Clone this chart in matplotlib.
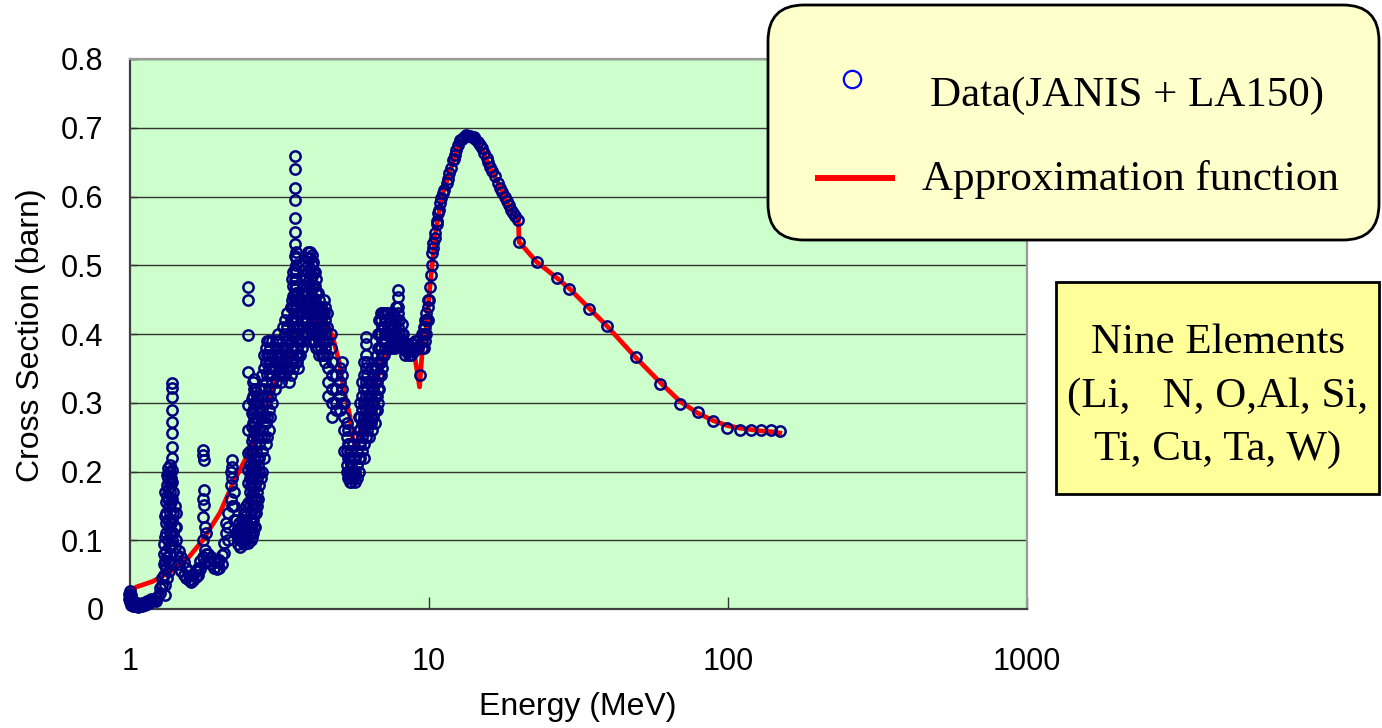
import numpy as np
import matplotlib
matplotlib.use("Agg")
import matplotlib.pyplot as plt
from matplotlib.patches import FancyBboxPatch, Rectangle
from matplotlib.lines import Line2D
from matplotlib.transforms import IdentityTransform
from matplotlib.ticker import NullLocator

# ---------------------------------------------------------------------------
# Evaluated cross-section data, resonance region (energy in MeV, xs in barn).
# Each entry: one energy with the cross-section values found there.
res_columns = [
    (0.99, [0.022, 0.014]),
    (1.00, [0.026, 0.018, 0.010]),
    (1.01, [0.006, 0.020]),
    (1.02, [0.012, 0.004]),
    (1.04, [0.005, 0.010]),
    (1.06, [0.003, 0.007]),
    (1.08, [0.004]),
    (1.10, [0.005, 0.009]),
    (1.12, [0.006]),
    (1.14, [0.007, 0.011]),
    (1.16, [0.009]),
    (1.18, [0.011, 0.014]),
    (1.20, [0.013]),
    (1.22, [0.016, 0.012]),
    (1.24, [0.019]),
    (1.26, [0.024, 0.030]),
    (1.28, [0.035, 0.045]),
    (1.30, [0.050, 0.065, 0.080, 0.095]),
    (1.31, [0.020, 0.035, 0.070, 0.105, 0.135, 0.170]),
    (1.32, [0.060, 0.085, 0.110, 0.125, 0.140, 0.155]),
    (1.33, [0.045, 0.075, 0.165, 0.180, 0.195]),
    (1.34, [0.070, 0.100, 0.130, 0.160, 0.175, 0.190, 0.205]),
    (1.35, [0.055, 0.090, 0.120, 0.150, 0.200]),
    (1.36, [0.080, 0.110, 0.140, 0.170, 0.185, 0.200, 0.210]),
    (1.37, [0.065, 0.095, 0.125, 0.155, 0.190]),
    (1.38, [0.185, 0.202, 0.219, 0.236, 0.256, 0.272, 0.289, 0.308, 0.321,
            0.329, 0.160, 0.130, 0.100]),
    (1.39, [0.110, 0.140, 0.170]),
    (1.41, [0.090, 0.120, 0.150]),
    (1.43, [0.080, 0.100, 0.120, 0.140]),
    (1.46, [0.065, 0.085]),
    (1.48, [0.055, 0.075]),
    (1.51, [0.050, 0.068]),
    (1.54, [0.045, 0.060]),
    (1.57, [0.042, 0.055]),
    (1.60, [0.040, 0.050]),
    (1.63, [0.042, 0.050]),
    (1.66, [0.046, 0.055]),
    (1.69, [0.050, 0.060]),
    (1.72, [0.058, 0.070]),
    (1.75, [0.075, 0.160]),
    (1.76, [0.231, 0.224, 0.134, 0.100]),
    (1.77, [0.217, 0.173, 0.151, 0.067]),
    (1.78, [0.119, 0.086]),
    (1.80, [0.110, 0.080]),
    (1.83, [0.080, 0.070]),
    (1.87, [0.065, 0.075]),
    (1.91, [0.060, 0.070]),
    (1.95, [0.058, 0.068]),
    (1.99, [0.060, 0.072]),
    (2.03, [0.065, 0.078]),
    (2.07, [0.081, 0.096]),
    (2.10, [0.110, 0.125]),
    (2.13, [0.100, 0.120, 0.140]),
    (2.17, [0.160, 0.180, 0.200]),
    (2.19, [0.207, 0.217, 0.190, 0.150]),
    (2.22, [0.130, 0.150, 0.170]),
    (2.26, [0.110, 0.130]),
    (2.30, [0.095, 0.105, 0.115]),
    (2.32, [0.110, 0.125]),
    (2.34, [0.090, 0.100, 0.120]),
    (2.36, [0.105, 0.115, 0.130]),
    (2.38, [0.100, 0.110, 0.130]),
    (2.40, [0.095, 0.120, 0.140]),
    (2.42, [0.105, 0.115, 0.125, 0.140]),
    (2.44, [0.100, 0.130, 0.150]),
    (2.45, [0.110, 0.120, 0.135]),
    (2.48, [0.468, 0.449, 0.399, 0.345, 0.297, 0.260, 0.227, 0.202, 0.183,
            0.154, 0.115, 0.096]),
    (2.51, [0.11, 0.13, 0.15, 0.17, 0.19, 0.21, 0.23]),
    (2.53, [0.10, 0.12, 0.14, 0.16, 0.18, 0.20]),
    (2.55, [0.105, 0.125, 0.145, 0.165, 0.185, 0.205, 0.225, 0.245, 0.265,
            0.285, 0.305]),
    (2.57, [0.11, 0.13, 0.15, 0.17, 0.19, 0.21, 0.23, 0.25, 0.27, 0.29,
            0.31, 0.33]),
    (2.59, [0.12, 0.14, 0.16, 0.18, 0.20, 0.22, 0.26, 0.28, 0.30, 0.32, 0.335]),
    (2.61, [0.12, 0.15, 0.18, 0.21, 0.24, 0.27, 0.30, 0.32]),
    (2.64, [0.14, 0.16, 0.20, 0.23, 0.26, 0.29, 0.315]),
    (2.66, [0.15, 0.17, 0.19, 0.22, 0.25, 0.28, 0.31]),
    (2.69, [0.16, 0.21, 0.25, 0.30]),
    (2.71, [0.18, 0.20, 0.22, 0.24, 0.26, 0.29]),
    (2.74, [0.19, 0.25, 0.28, 0.32]),
    (2.77, [0.20, 0.23, 0.26, 0.29, 0.31, 0.34]),
    (2.81, [0.22, 0.25, 0.28, 0.32, 0.35, 0.37]),
    (2.84, [0.24, 0.27, 0.30, 0.33, 0.36, 0.38]),
    (2.88, [0.25, 0.28, 0.31, 0.34, 0.37, 0.39]),
    (2.91, [0.26, 0.29, 0.32, 0.35, 0.37, 0.39]),
    (2.95, [0.28, 0.31, 0.34, 0.36, 0.38]),
    (2.98, [0.30, 0.33, 0.35, 0.37, 0.39]),
    (3.05, [0.32, 0.35, 0.37]),
    (3.08, [0.33, 0.36, 0.38, 0.39]),
    (3.12, [0.34, 0.36, 0.38, 0.40]),
    (3.16, [0.34, 0.37, 0.39]),
    (3.20, [0.33, 0.35, 0.37]),
    (3.25, [0.34, 0.36, 0.38, 0.41]),
    (3.30, [0.34, 0.36, 0.38, 0.40, 0.42]),
    (3.35, [0.35, 0.37, 0.39, 0.41, 0.43]),
    (3.40, [0.33, 0.35, 0.37]),
    (3.45, [0.34, 0.36, 0.38, 0.40, 0.42, 0.44]),
    (3.48, [0.36, 0.39, 0.42, 0.45, 0.48]),
    (3.50, [0.35, 0.365, 0.38, 0.395, 0.41, 0.425, 0.44, 0.455, 0.47, 0.49]),
    (3.55, [0.45, 0.465, 0.48, 0.495, 0.513, 0.531, 0.548, 0.569, 0.595,
            0.612, 0.640, 0.659]),
    (3.58, [0.37, 0.39, 0.41, 0.43, 0.45, 0.47, 0.49, 0.51]),
    (3.60, [0.36, 0.38, 0.40, 0.42, 0.44, 0.46, 0.48, 0.50, 0.52]),
    (3.63, [0.36, 0.38, 0.40, 0.42, 0.44, 0.46]),
    (3.66, [0.35, 0.37, 0.39, 0.41, 0.43, 0.45]),
    (3.70, [0.37, 0.39, 0.41, 0.43, 0.45]),
    (3.75, [0.38, 0.40, 0.42, 0.44]),
    (3.80, [0.39, 0.41, 0.43, 0.45, 0.47]),
    (3.85, [0.40, 0.42, 0.44, 0.46, 0.48]),
    (3.90, [0.41, 0.43, 0.45, 0.47, 0.49, 0.51]),
    (3.95, [0.43, 0.445, 0.46, 0.475, 0.49, 0.50, 0.51, 0.52]),
    (4.00, [0.39, 0.41, 0.43, 0.45, 0.465, 0.48, 0.495, 0.51, 0.52]),
    (4.05, [0.40, 0.42, 0.44, 0.455, 0.47, 0.485, 0.50, 0.515]),
    (4.10, [0.39, 0.41, 0.43, 0.45, 0.47, 0.49, 0.505]),
    (4.15, [0.39, 0.41, 0.43, 0.45, 0.47, 0.49]),
    (4.20, [0.38, 0.40, 0.42, 0.44, 0.46, 0.48]),
    (4.25, [0.38, 0.40, 0.42, 0.44, 0.46]),
    (4.30, [0.37, 0.39, 0.41, 0.43, 0.45]),
    (4.35, [0.38, 0.40, 0.42, 0.44]),
    (4.40, [0.37, 0.39, 0.41, 0.43]),
    (4.45, [0.37, 0.39, 0.41, 0.43, 0.45]),
    (4.50, [0.36, 0.38, 0.40, 0.42, 0.44]),
    (4.55, [0.37, 0.39, 0.41, 0.43]),
    (4.60, [0.31, 0.33, 0.35]),
    (4.70, [0.38, 0.40]),
    (4.75, [0.28, 0.30, 0.32, 0.34, 0.36]),
    (4.90, [0.29, 0.30, 0.32, 0.34]),
    (5.05, [0.29, 0.31, 0.33, 0.35]),
    (5.12, [0.30, 0.32, 0.34, 0.36]),
    (5.20, [0.23, 0.26, 0.28, 0.30]),
    (5.30, [0.20, 0.21, 0.23, 0.25, 0.27]),
    (5.35, [0.19, 0.22, 0.24, 0.26]),
    (5.40, [0.19, 0.20, 0.22, 0.24]),
    (5.45, [0.185, 0.20, 0.215, 0.23]),
    (5.50, [0.185, 0.195, 0.21, 0.23]),
    (5.58, [0.19, 0.20, 0.22, 0.24]),
    (5.65, [0.185, 0.20, 0.22]),
    (5.75, [0.19, 0.21, 0.23, 0.25]),
    (5.82, [0.20, 0.22, 0.24, 0.26, 0.28]),
    (5.90, [0.22, 0.24, 0.26, 0.28, 0.30]),
    (5.98, [0.23, 0.25, 0.27, 0.29, 0.31, 0.33]),
    (6.05, [0.22, 0.24, 0.26, 0.28, 0.30, 0.32, 0.34, 0.36]),
    (6.15, [0.25, 0.27, 0.29, 0.31, 0.33, 0.35, 0.37, 0.385, 0.395]),
    (6.22, [0.26, 0.28, 0.30, 0.32, 0.34, 0.36]),
    (6.30, [0.25, 0.27, 0.29, 0.31, 0.33]),
    (6.38, [0.27, 0.29, 0.31, 0.33, 0.35]),
    (6.45, [0.26, 0.28, 0.30, 0.32]),
    (6.52, [0.28, 0.30, 0.32, 0.34]),
    (6.60, [0.27, 0.29, 0.31, 0.33, 0.35]),
    (6.68, [0.29, 0.31, 0.33, 0.35, 0.37]),
    (6.75, [0.30, 0.32, 0.34, 0.36, 0.38, 0.40]),
    (6.82, [0.32, 0.34, 0.36, 0.38, 0.40, 0.42]),
    (6.90, [0.34, 0.36, 0.38, 0.40, 0.42, 0.43]),
    (6.97, [0.35, 0.37, 0.39, 0.41, 0.43]),
    (7.05, [0.37, 0.39, 0.41, 0.43]),
    (7.12, [0.38, 0.40, 0.42, 0.43]),
    (7.20, [0.39, 0.40, 0.42, 0.43]),
    (7.30, [0.38, 0.40, 0.41, 0.43]),
    (7.40, [0.38, 0.395, 0.41, 0.425]),
    (7.50, [0.38, 0.39, 0.41, 0.42]),
    (7.60, [0.385, 0.40, 0.415, 0.43]),
    (7.70, [0.38, 0.40, 0.41]),
    (7.75, [0.39, 0.42, 0.44]),
    (7.88, [0.395, 0.41, 0.43, 0.44, 0.454, 0.464]),
    (7.95, [0.39, 0.40, 0.42]),
    (8.10, [0.385, 0.40, 0.415]),
    (8.20, [0.38, 0.39, 0.40]),
    (8.30, [0.37, 0.38]),
    (8.40, [0.375, 0.385]),
    (8.50, [0.375, 0.385]),
    (8.60, [0.37, 0.38]),
    (8.70, [0.37, 0.38]),
    (8.80, [0.375, 0.385]),
    (8.90, [0.375, 0.385]),
    (9.00, [0.38, 0.39]),
    (9.10, [0.38, 0.39]),
    (9.20, [0.38]),
    (9.30, [0.34]),
    (9.50, [0.38, 0.39, 0.40]),
    (9.60, [0.38, 0.40, 0.41]),
    (9.70, [0.39, 0.41, 0.42]),
    (9.80, [0.40, 0.42, 0.43]),
    (9.90, [0.42, 0.44, 0.45]),
]

# Giant-resonance region, 10 - 20 MeV
peak_energy = [10.0, 10.05, 10.12, 10.2, 10.25, 10.3, 10.35, 10.45, 10.5, 10.6,
               10.65, 10.75, 10.8, 10.9, 11.0, 11.1, 11.25, 11.45, 11.55, 11.7,
               11.85, 12.0, 12.1, 12.2, 12.35, 12.5, 12.7, 12.9, 13.1, 13.3,
               13.5, 13.7, 13.9, 14.1, 14.3, 14.6, 14.8, 15.0, 15.3, 15.6,
               15.8, 16.0, 16.3, 16.6, 17.0, 17.3, 17.6, 17.9, 18.2, 18.5,
               18.8, 19.1, 19.4, 19.8]
peak_xs = [0.450, 0.468, 0.486, 0.500, 0.518, 0.525, 0.532, 0.540, 0.547, 0.560,
           0.565, 0.576, 0.580, 0.590, 0.598, 0.605, 0.610, 0.620, 0.626, 0.634,
           0.642, 0.653, 0.655, 0.660, 0.668, 0.675, 0.682, 0.683, 0.686, 0.689,
           0.688, 0.688, 0.687, 0.686, 0.683, 0.679, 0.675, 0.670, 0.663, 0.656,
           0.650, 0.643, 0.637, 0.630, 0.620, 0.613, 0.607, 0.600, 0.593, 0.587,
           0.580, 0.576, 0.572, 0.566]

# LA150 high-energy points
tail_energy = [20.0, 22.9, 26.7, 29.5, 34.4, 39.3, 49.1, 59.2, 69.1, 79.2,
               89.3, 99.0, 110, 119, 129, 139, 149]
tail_xs = [0.534, 0.505, 0.482, 0.466, 0.437, 0.412, 0.366, 0.328, 0.298, 0.286,
           0.273, 0.263, 0.260, 0.260, 0.260, 0.260, 0.259]

# Approximation function
fit_energy = [1.00, 1.05, 1.19, 1.36, 1.55, 1.75, 2.00, 2.21, 2.46, 2.66,
              2.94, 3.25, 3.61, 4.00, 4.40, 4.75, 5.00, 5.20, 5.44, 5.57,
              5.70, 5.88, 6.20, 6.50, 7.00, 7.60, 8.00, 8.45, 8.98, 9.30,
              9.50, 9.80, 10.05, 10.5, 11.0, 11.7, 12.5, 13.3, 14.0, 15.0,
              16.0, 17.0, 18.0, 19.0, 19.9, 20.0, 22.9, 26.7, 29.5, 34.4,
              39.3, 49.1, 59.2, 69.1, 79.2, 89.3, 99.0, 110, 119, 129,
              139, 149]
fit_xs = [0.025, 0.032, 0.040, 0.054, 0.072, 0.100, 0.140, 0.183, 0.222, 0.262,
          0.308, 0.360, 0.396, 0.418, 0.425, 0.398, 0.360, 0.318, 0.280, 0.245,
          0.236, 0.256, 0.285, 0.314, 0.362, 0.400, 0.398, 0.392, 0.365, 0.323,
          0.377, 0.410, 0.465, 0.545, 0.597, 0.634, 0.672, 0.686, 0.686, 0.669,
          0.643, 0.620, 0.598, 0.578, 0.566, 0.534, 0.505, 0.482, 0.466, 0.437,
          0.412, 0.366, 0.330, 0.302, 0.285, 0.274, 0.267, 0.263, 0.261, 0.259,
          0.258, 0.256]

x_ticks = [1, 10, 100, 1000]
x_tick_labels = ["1", "10", "100", "1000"]
y_ticks = [0, 0.1, 0.2, 0.3, 0.4, 0.5, 0.6, 0.7, 0.8]
y_tick_labels = ["0", "0.1", "0.2", "0.3", "0.4", "0.5", "0.6", "0.7", "0.8"]

legend_labels = ["Data(JANIS + LA150)", "Approximation function"]
note_lines = ["Nine Elements", "(Li,   N, O,Al, Si,", "Ti, Cu, Ta, W)"]

# ---------------------------------------------------------------------------
data_energy = [e for e, vals in res_columns for _ in vals] + peak_energy + tail_energy
data_xs = [v for _, vals in res_columns for v in vals] + peak_xs + tail_xs

plt.rcParams["font.family"] = ["Liberation Sans", "DejaVu Sans"]

W, H = 1382, 728
fig = plt.figure(figsize=(W / 100, H / 100), dpi=100)
ax = fig.add_axes([130 / W, 1 - 609 / H, 897 / W, 550 / H])
ax.set_facecolor("#CCFFCC")
ax.set_xscale("log")
ax.set_xlim(1, 1000)
ax.set_ylim(0, 0.8)

ax.set_axisbelow(True)
ax.yaxis.grid(True, color="#333333", lw=1.0)
ax.xaxis.grid(False)

ax.plot(fit_energy, fit_xs, color="#FF0000", lw=3.4, zorder=2,
        solid_joinstyle="round")
ax.plot(data_energy, data_xs, "o", ms=7.4, mfc="none", mec="#000080",
        mew=1.8, zorder=3, clip_on=False)

ax.set_xticks(x_ticks, labels=x_tick_labels)
ax.xaxis.set_minor_locator(NullLocator())
ax.set_yticks(y_ticks, labels=y_tick_labels)
ax.tick_params(axis="x", direction="in", length=9, width=1.0, color="#333333",
               pad=27, labelsize=22)
ax.tick_params(axis="y", direction="in", length=5, width=1.0, color="#333333",
               pad=19, labelsize=22)

for side in ("left", "bottom"):
    ax.spines[side].set_color("#404040")
    ax.spines[side].set_linewidth(1.6)
for side in ("top", "right"):
    ax.spines[side].set_color("#9A9A9A")
    ax.spines[side].set_linewidth(1.6)

fig.text(31 / W, 1 - 335 / H, "Cross Section (barn)", rotation=90,
         ha="center", va="center", fontsize=23)
fig.text(578 / W, 1 - 707 / H, "Energy (MeV)", ha="center", va="center",
         fontsize=23)

# Legend panel (pixel coordinates)
px = IdentityTransform()
fig.add_artist(FancyBboxPatch((768, H - 240), 611, 235,
                              boxstyle="round,pad=0,rounding_size=36",
                              fc="#FFFFCC", ec="black", lw=2.0,
                              transform=px, zorder=5))
fig.add_artist(Line2D([852], [H - 79], marker="o", ms=12.5, mfc="none",
                      mec="#0000FF", mew=1.6, ls="none", transform=px,
                      zorder=6))
fig.add_artist(Line2D([818, 892], [H - 178, H - 178], color="#FF0000",
                      lw=4.3, transform=px, zorder=6))
serif = ["Liberation Serif", "DejaVu Serif"]
fig.text(930 / W, 1 - 106 / H, legend_labels[0], family=serif, fontsize=31,
         ha="left", va="baseline", zorder=7)
fig.text(922 / W, 1 - 190 / H, legend_labels[1], family=serif, fontsize=31,
         ha="left", va="baseline", zorder=7)

# Note box
fig.add_artist(Rectangle((1056, H - 494), 323, 212, fc="#FFFF99", ec="black",
                         lw=2.0, transform=px, zorder=5))
for line, base in zip(note_lines, [353, 407, 460]):
    fig.text(1218 / W, 1 - base / H, line, family=serif, fontsize=31,
             ha="center", va="baseline", zorder=7)

fig.savefig("out.png", dpi=100)
